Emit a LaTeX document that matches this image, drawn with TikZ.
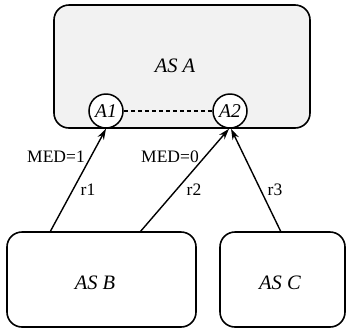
\documentclass[tikz,border=0pt]{standalone}
\usepackage{fontspec}
\setmainfont{Liberation Serif}
\usetikzlibrary{arrows.meta}
\begin{document}
\begin{tikzpicture}[x=1pt,y=-1pt,
  every node/.style={font=\fontsize{17.5}{21}\selectfont},
  asbox/.style={draw,line width=1.6pt,rounded corners=15pt,inner sep=0pt},
  aslbl/.style={inner sep=0pt,font=\fontsize{20.5}{24}\selectfont\itshape},
  router/.style={draw,circle,line width=1.5pt,fill=white,minimum size=34pt,inner sep=0pt,font=\fontsize{19.5}{22}\selectfont\itshape},
  link/.style={line width=1.4pt,-{Stealth[length=11pt,width=7pt]}},
  lbl/.style={inner sep=0pt}]
\useasboundingbox (0,0) rectangle (347,333);
\node[asbox,fill={rgb,255:red,242;green,242;blue,242},minimum width=256pt,minimum height=123pt] (asA) at (182,66.5) {};
\node[aslbl] (asAlbl) at (175,66) {AS A};
\node[asbox,minimum width=189pt,minimum height=95pt] (asB) at (101.5,279.5) {};
\node[aslbl] (asBlbl) at (95,283) {AS B};
\node[asbox,minimum width=125pt,minimum height=95pt] (asC) at (282.5,279.5) {};
\node[aslbl] (asClbl) at (280,283) {AS C};
\node[router] (A1) at (106,111) {A1};
\node[router] (A2) at (230,111) {A2};
\draw[line width=1.3pt,dash pattern=on 4pt off 3pt] (A1) -- (A2);
\coordinate (b1) at (50,232);
\coordinate (b2) at (140,232);
\coordinate (c1) at (281,232);
\draw[link] (b1) -- (A1.south);
\draw[link] (b2) -- ([xshift=-1pt]A2.south);
\draw[link] (c1) -- ([xshift=1pt]A2.south);
\node[lbl] (med1) at (56,157) {MED=1};
\node[lbl] (med0) at (170,157) {MED=0};
\node[lbl] (r1) at (88,190) {r1};
\node[lbl] (r2) at (194,190) {r2};
\node[lbl] (r3) at (275,190) {r3};
\end{tikzpicture}
\end{document}
